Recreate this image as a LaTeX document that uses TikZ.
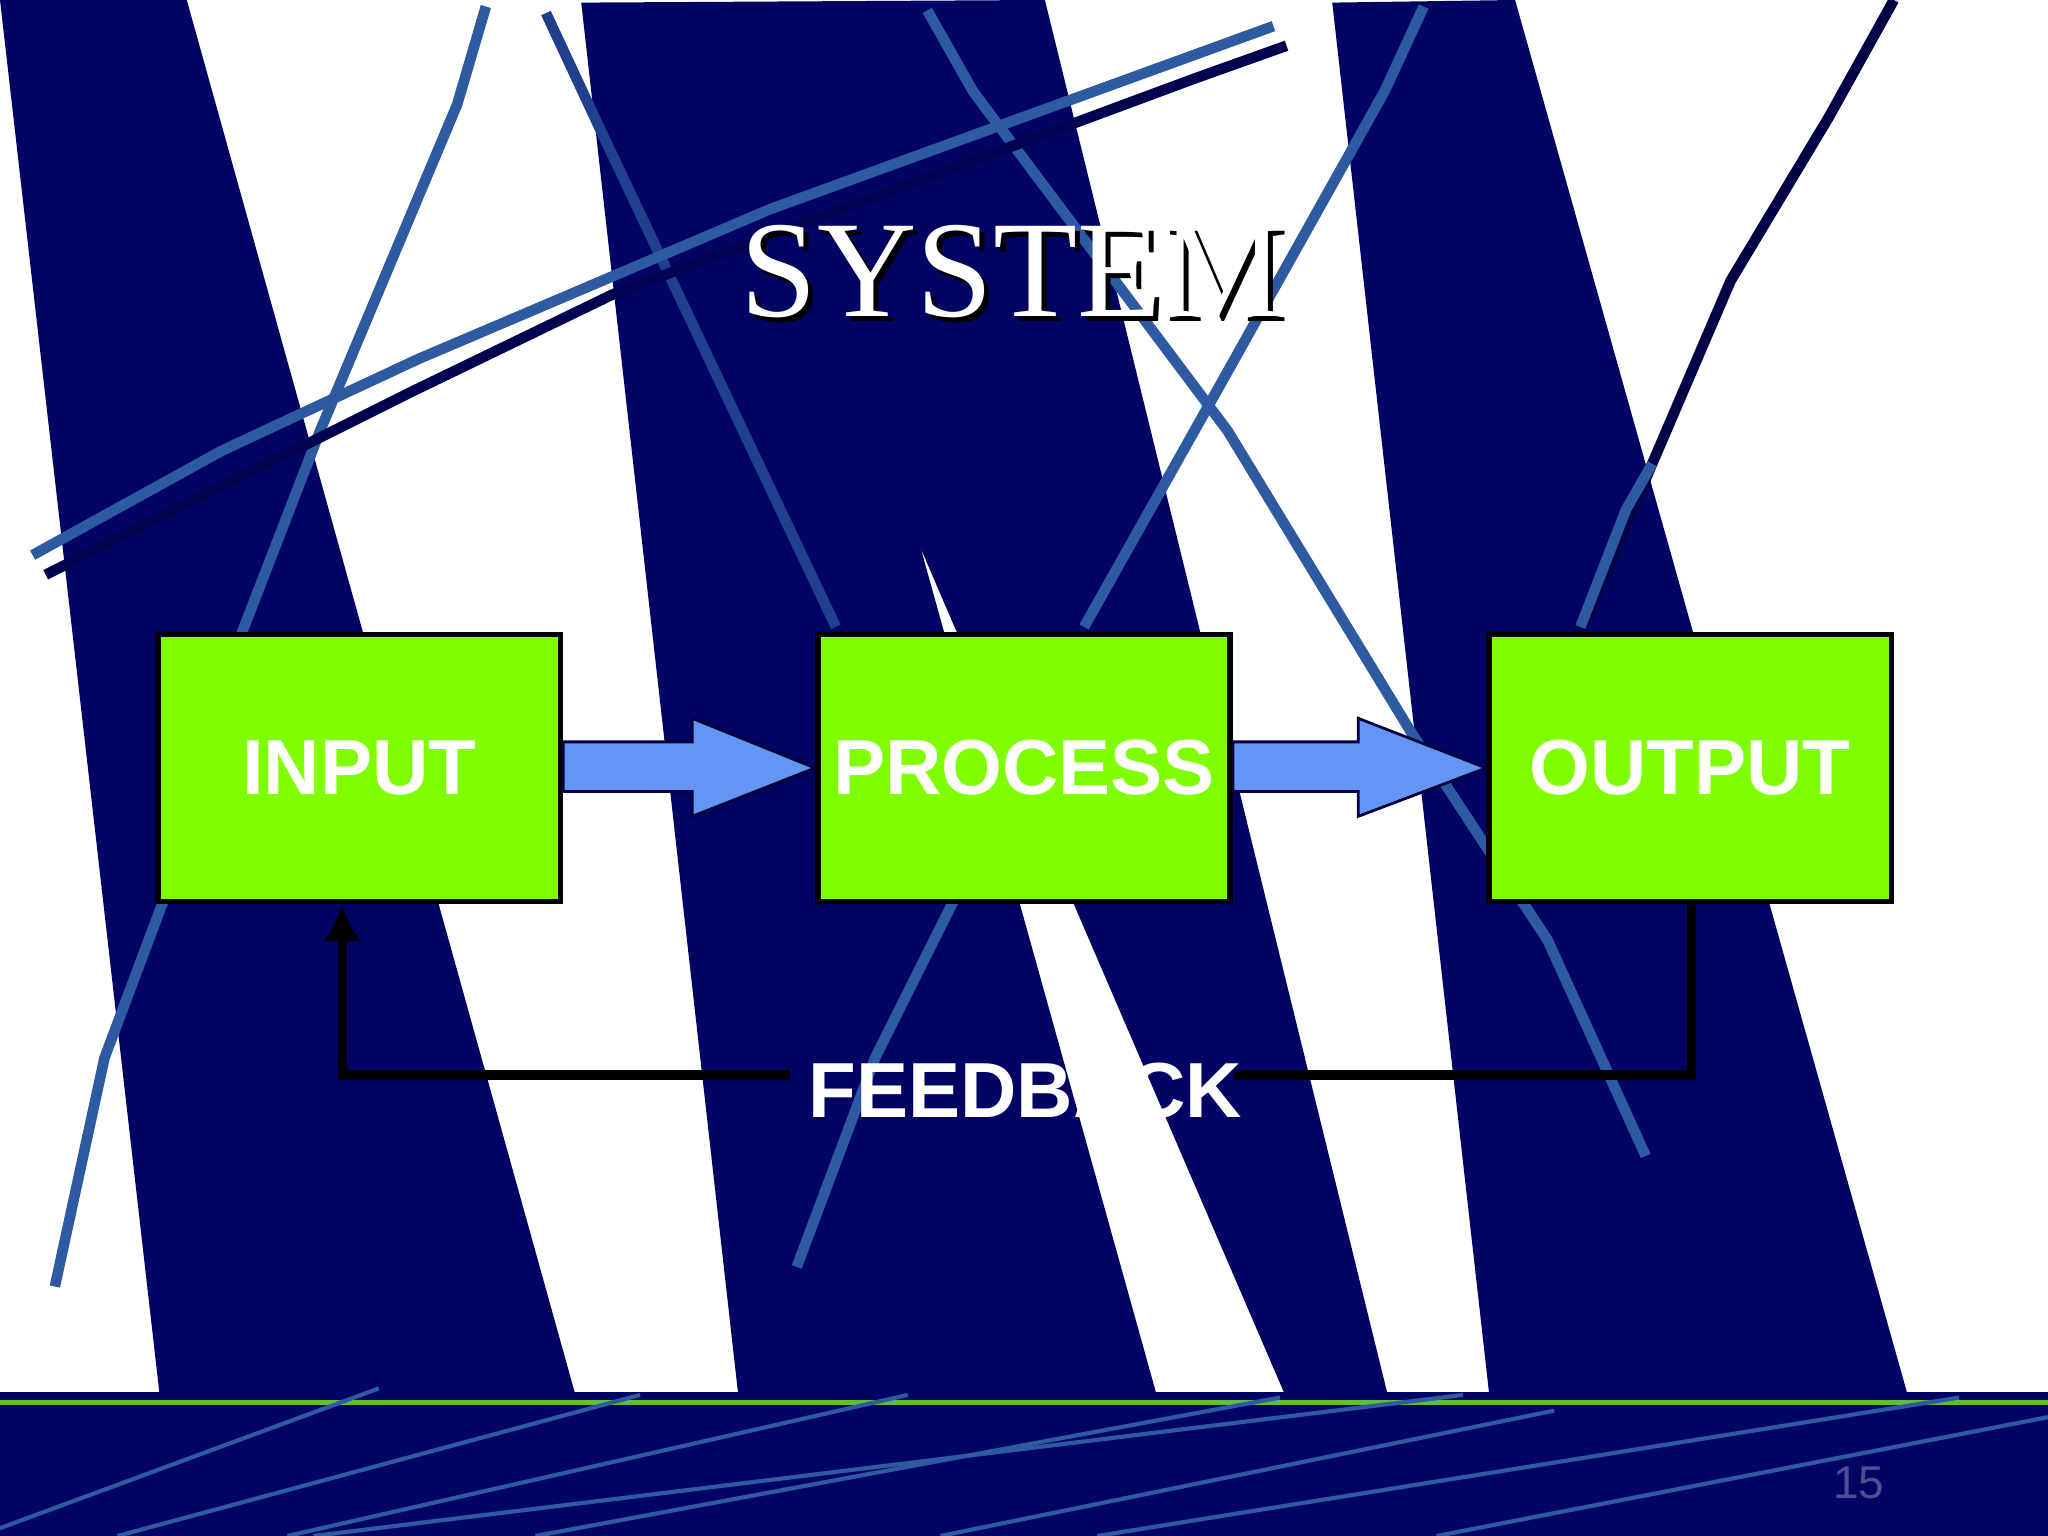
\documentclass[tikz,border=0pt]{standalone}
\usepackage{fontspec}
\setmainfont{Liberation Serif}
\setsansfont{Liberation Sans}
\usetikzlibrary{arrows.meta}
\definecolor{navy}{RGB}{2,4,100}
\definecolor{steel}{RGB}{45,90,160}
\definecolor{lgreen}{RGB}{128,255,0}
\definecolor{arrblue}{RGB}{100,149,245}
\tikzset{
  band/.style={fill=navy,draw=none},
  streak/.style={draw=steel,line width=2.3pt},
  thinstreak/.style={draw=steel,line width=0.9pt},
  darkstreak/.style={draw=navy!80!black,line width=2.3pt},
  box/.style={draw=black,line width=1.2pt,fill=lgreen,minimum width=3.08cm,minimum height=2.04cm,
    font=\sffamily\bfseries\fontsize{17}{20}\selectfont,text=white},
  blockarrow/.style={fill=arrblue,draw=navy!60!black,line width=0.6pt},
  fb/.style={draw=black,line width=2pt}
}
\begin{document}
\begin{tikzpicture}[x=0.01cm,y=-0.01cm]
\fill[white] (0,0) rectangle (1568,1176);
\useasboundingbox (0,0) rectangle (1568,1176);
% bands
\path[band] (0,0) -- (143,0) -- (440,1066) -- (122,1066) -- cycle;
\path[band] (445,2) -- (800,0) -- (1062,1066) -- (983,1066) -- (705,420) -- (885,1066) -- (565,1066) -- cycle;
\path[band] (1020,2) -- (1160,0) -- (1460,1066) -- (1140,1066) -- cycle;
\path[band] (0,1066) rectangle (1568,1176);
\draw[draw=lgreen!60!steel,line width=1pt] (0,1074) -- (1568,1074);
% streaks
\draw[streak] (372,5) -- (350,80) -- (245,330) -- (185,485);
\draw[streak] (125,690) -- (80,810) -- (42,985);
\draw[streak,draw=steel!70!navy] (418,10) -- (460,100) -- (640,480);
\draw[streak] (710,8) -- (745,70) -- (940,330) -- (1080,560) -- (1185,720) -- (1260,885);
\draw[streak] (1090,5) -- (1060,70) -- (920,320) -- (830,480);
\draw[streak,draw=navy!70!black] (1450,0) -- (1400,90) -- (1325,215) -- (1265,355) -- (1210,485);
\draw[streak] (1265,355) -- (1245,390) -- (1210,480);
\draw[streak] (730,690) -- (670,810) -- (610,970);
\draw[darkstreak] (985,35) -- (915,60) -- (470,225) -- (315,300) -- (35,440);
\draw[streak] (975,20) -- (590,160) -- (320,275) -- (170,345) -- (25,425);
% bottom thin streaks
\draw[thinstreak] (0,1170) -- (290,1063);
\draw[thinstreak] (90,1176) -- (490,1068);
\draw[thinstreak] (220,1176) -- (695,1068);
\draw[thinstreak] (240,1176) -- (1120,1068);
\draw[thinstreak] (410,1176) -- (980,1070);
\draw[thinstreak] (720,1176) -- (1190,1080);
\draw[thinstreak] (840,1176) -- (1500,1070);
\draw[thinstreak] (1100,1176) -- (1568,1085);
% title
\node[text=black,font=\fontsize{30}{34}\selectfont] at (779,212) {SYSTEM};
\node[text=white,font=\fontsize{30}{34}\selectfont] (title) at (775,208) {SYSTEM};
% boxes
\node[box] (in) at (275,588) {INPUT};
\node[box] (pr) at (784,588) {PROCESS};
\node[box] (out) at (1294,588) {OUTPUT};
% block arrows
\path[blockarrow] (in.east |- 0,568) -- (530,568) -- (530,550) -- (pr.west) -- (530,625) -- (530,606) -- (in.east |- 0,606) -- cycle;
\path[blockarrow] (pr.east |- 0,568) -- (1040,568) -- (1040,550) -- (out.west) -- (1040,625) -- (1040,606) -- (pr.east |- 0,606) -- cycle;
% feedback
\node[text=white,font=\sffamily\bfseries\fontsize{17}{20}\selectfont] (fbt) at (785,835) {FEEDBACK};
\coordinate (c1) at (1295,823);
\coordinate (c2) at (262,823);
\draw[fb] (out.south -| c1) -- (c1) -- (945,823);
\draw[fb,-{Latex[length=8pt,width=8pt]}] (605,823) -- (c2) -- (in.south -| c2);
\node[text=navy!70!white,font=\sffamily\fontsize{10}{12}\selectfont] (pg) at (1423,1135) {15};
\end{tikzpicture}
\end{document}
